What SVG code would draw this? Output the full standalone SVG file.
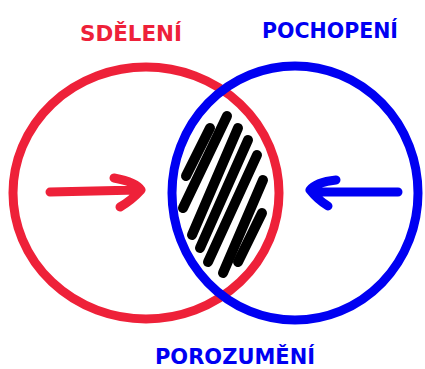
<svg xmlns="http://www.w3.org/2000/svg" width="425" height="369" viewBox="0 0 425 369">
<style>
.red{stroke:#EE2139;fill:none;stroke-width:9;stroke-linecap:round;stroke-linejoin:round}
.blue{stroke:#0000F2;fill:none;stroke-width:9;stroke-linecap:round;stroke-linejoin:round}
.hatch{stroke:#000;stroke-width:10;stroke-linecap:round}
.lbl{font-family:"DejaVu Sans",sans-serif;font-weight:bold;font-size:22px}
</style>
<rect width="425" height="369" fill="#fff"/>
<g id="sdeleni">
<ellipse class="red" cx="146" cy="193" rx="133" ry="126"/>
<text class="lbl" x="131" y="41" text-anchor="middle" fill="#EE2139" textLength="102" lengthAdjust="spacingAndGlyphs">SDĚLENÍ</text>
</g>
<g id="pochopeni">
<ellipse class="blue" cx="295" cy="193" rx="123" ry="127"/>
<text class="lbl" x="330" y="38" text-anchor="middle" fill="#0000F2" textLength="136" lengthAdjust="spacingAndGlyphs">POCHOPENÍ</text>
</g>
<g id="porozumeni">
<g class="hatch">
<line x1="210" y1="128" x2="186" y2="176"/>
<line x1="227" y1="116" x2="183" y2="208"/>
<line x1="238" y1="128" x2="192" y2="235"/>
<line x1="248" y1="140" x2="200" y2="248"/>
<line x1="257" y1="155" x2="208" y2="262"/>
<line x1="263" y1="180" x2="223" y2="273"/>
<line x1="262" y1="213" x2="238" y2="262"/>
</g>
<text class="lbl" x="235" y="364" text-anchor="middle" font-size="20" fill="#0000F2" textLength="160" lengthAdjust="spacingAndGlyphs">POROZUMĚNÍ</text>
</g>
<g id="connectors">
<path class="red" d="M50 192 L138 190 M114 178 Q136 182 141 190 Q132 200 120 207"/>
<path class="blue" d="M398 192 L312 192 M336 180 Q316 182 310 190 Q318 200 328 206"/>
</g>
</svg>
